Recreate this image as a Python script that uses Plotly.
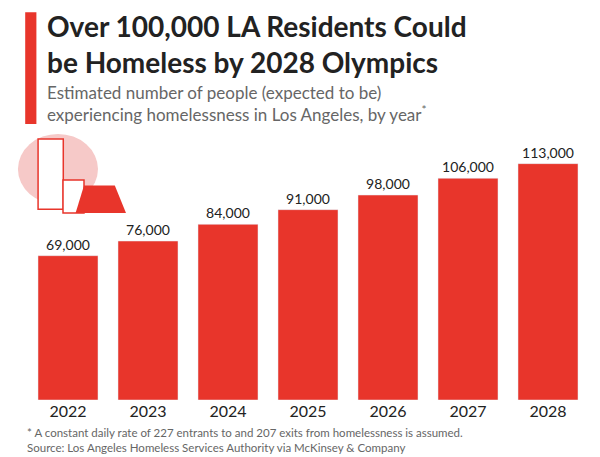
import plotly.graph_objects as go

years = ["2022", "2023", "2024", "2025", "2026", "2027", "2028"]
homeless = [69000, 76000, 84000, 91000, 98000, 106000, 113000]
labels = ["69,000", "76,000", "84,000", "91,000", "98,000", "106,000", "113,000"]

RED = "#e8352b"
fig = go.Figure(go.Bar(
    x=years, y=homeless, marker_color=RED, text=labels, textposition="outside",
    textfont=dict(size=14, color="#222", family="Lato"), cliponaxis=False))

fig.update_layout(
    width=600, height=457, paper_bgcolor="white", plot_bgcolor="white",
    margin=dict(l=20, r=20, t=141, b=65), bargap=0.25, showlegend=False,
    font=dict(family="Lato"),
    xaxis=dict(showgrid=False, tickfont=dict(size=16, color="#222"), ticks="", showline=False),
    yaxis=dict(visible=False, range=[0, 120000]),
    shapes=[
        dict(type="rect", xref="paper", yref="paper", x0=-0.005, x1=0.015, y0=1.10, y1=1.545,
             fillcolor=RED, line_width=0),
        dict(type="circle", xref="paper", yref="paper", x0=-0.018, x1=0.125, y0=0.78, y1=1.06,
             fillcolor="#f6c9c8", line_width=0),
        dict(type="rect", xref="paper", yref="paper", x0=0.018, x1=0.063, y0=0.76, y1=1.04,
             fillcolor="white", line=dict(color=RED, width=1.5)),
        dict(type="rect", xref="paper", yref="paper", x0=0.0625, x1=0.1, y0=0.745, y1=0.876,
             fillcolor="white", line=dict(color=RED, width=1.5)),
        dict(type="path", xref="paper", yref="paper",
             path="M 0.085 0.745 L 0.1 0.855 L 0.155 0.855 L 0.175 0.745 Z", fillcolor=RED, line_width=0),
    ],
    annotations=[
        dict(text="<b>Over 100,000 LA Residents Could<br>be Homeless by 2028 Olympics</b>",
             xref="paper", yref="paper", x=0.03, y=1.565, xanchor="left", yanchor="top",
             align="left", showarrow=False, font=dict(size=28, color="#222", family="Lato")),
        dict(text="Estimated number of people (expected to be)<br>experiencing homelessness in Los Angeles, by year<sup>*</sup>",
             xref="paper", yref="paper", x=0.03, y=1.275, xanchor="left", yanchor="top",
             align="left", showarrow=False, font=dict(size=17, color="#666", family="Lato")),
        dict(text="* A constant daily rate of 227 entrants to and 207 exits from homelessness is assumed.<br>Source: Los Angeles Homeless Services Authority via McKinsey & Company",
             xref="paper", yref="paper", x=-0.005, y=-0.095, xanchor="left", yanchor="top",
             align="left", showarrow=False, font=dict(size=11.5, color="#666", family="Lato")),
    ],
)
fig.write_html("out.html")
